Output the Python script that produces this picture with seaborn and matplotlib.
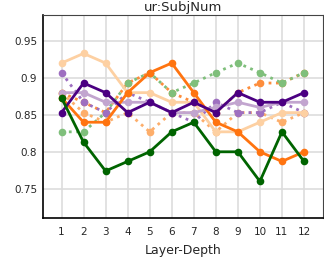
import numpy as np
import pandas as pd
import matplotlib
matplotlib.use('Agg')
import matplotlib.pyplot as plt
import seaborn as sns

# Data
layers = list(range(1, 13))

green_dark = [0.873, 0.813, 0.774, 0.787, 0.800, 0.827, 0.840, 0.800, 0.800, 0.760, 0.827, 0.787]
green_dot = [0.827, 0.827, 0.853, 0.893, 0.907, 0.880, 0.893, 0.907, 0.920, 0.907, 0.893, 0.907]
orange_solid = [0.873, 0.840, 0.840, 0.880, 0.907, 0.920, 0.880, 0.840, 0.827, 0.800, 0.787, 0.800]
orange_dot = [0.880, 0.867, 0.853, 0.893, 0.907, 0.880, 0.867, 0.853, 0.880, 0.893, 0.893, 0.907]
peach_solid = [0.920, 0.933, 0.920, 0.880, 0.880, 0.867, 0.867, 0.827, 0.827, 0.840, 0.853, 0.853]
peach_dot = [0.880, 0.853, 0.840, 0.853, 0.827, 0.853, 0.853, 0.827, 0.853, 0.853, 0.840, 0.853]
purple_dark = [0.853, 0.893, 0.880, 0.853, 0.867, 0.853, 0.867, 0.853, 0.880, 0.867, 0.867, 0.880]
purple_dot = [0.907, 0.867, 0.853, 0.880, 0.867, 0.853, 0.840, 0.867, 0.853, 0.853, 0.867, 0.853]
purple_light = [0.880, 0.880, 0.867, 0.867, 0.867, 0.853, 0.853, 0.860, 0.867, 0.860, 0.867, 0.867]

series = [
    (peach_dot, '#fdae6b', ':'),
    (orange_dot, '#fd8d3c', ':'),
    (green_dot, '#7fbf7b', ':'),
    (purple_dot, '#9e6fc0', ':'),
    (peach_solid, '#fdd0a2', '-'),
    (purple_light, '#c2a5cf', '-'),
    (orange_solid, '#ff7410', '-'),
    (purple_dark, '#4b0082', '-'),
    (green_dark, '#006400', '-'),
]

sns.set_style('whitegrid')
plt.rcParams['font.family'] = ['DejaVu Sans']

fig = plt.figure(figsize=(3.24, 2.59), dpi=100)
ax = fig.add_axes([0.132, 0.157, 0.864, 0.785])

for vals, color, ls in series:
    df = pd.DataFrame({'layer': layers, 'acc': vals})
    sns.lineplot(data=df, x='layer', y='acc', ax=ax, color=color, linestyle=ls,
                 linewidth=2, marker='o', markersize=5.5, markeredgewidth=0)

ax.set_xlim(0.15, 12.85)
ax.set_ylim(0.71, 0.985)
ax.set_xticks(layers)
ax.set_yticks([0.75, 0.8, 0.85, 0.9, 0.95])
ax.set_yticklabels(['0.75', '0.8', '0.85', '0.9', '0.95'])
ax.tick_params(labelsize=7.5, length=0)
ax.tick_params(axis='x', pad=6)
ax.tick_params(axis='y', pad=4)
ax.grid(True, color='#dddddd', linewidth=1.2)
for side in ['top', 'right']:
    ax.spines[side].set_color('#444444')
    ax.spines[side].set_linewidth(0.8)
for side in ['left', 'bottom']:
    ax.spines[side].set_color('black')
    ax.spines[side].set_linewidth(1.2)
ax.set_title('ur:SubjNum', fontsize=9.5, pad=3)
ax.set_xlabel('Layer-Depth', fontsize=9, labelpad=5)
ax.set_ylabel('')

fig.savefig('out.png', dpi=100)
